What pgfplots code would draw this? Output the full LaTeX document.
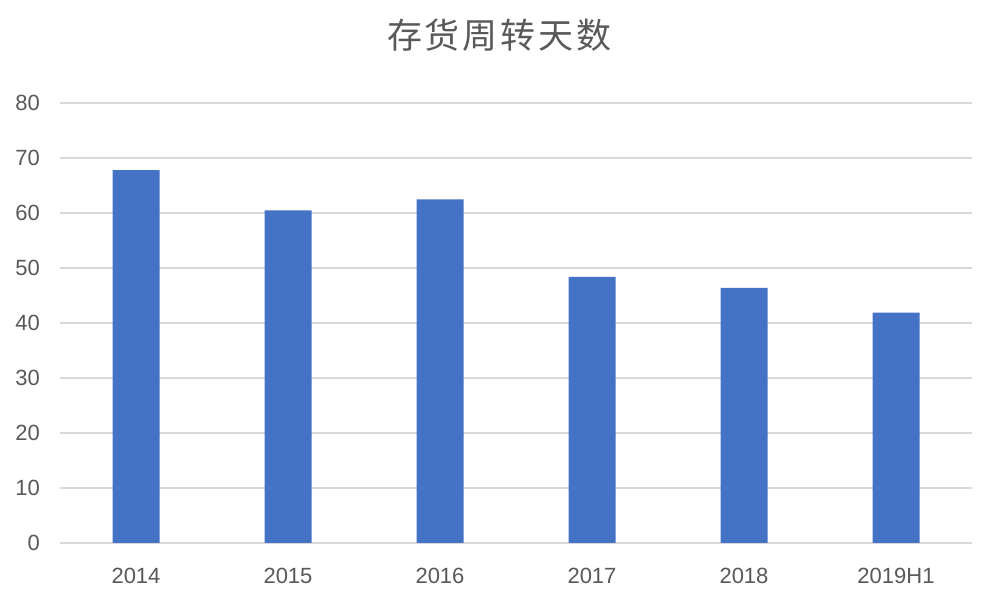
\documentclass[border=0pt]{standalone}
\usepackage{pgfplots}
\pgfplotsset{compat=1.18}
\usepackage{fontspec}
\setmainfont{Liberation Sans}
\newfontfamily\cjk{Noto Sans CJK SC}
\definecolor{barblue}{HTML}{4472C4}
\definecolor{txtgray}{HTML}{595959}
\definecolor{gridgray}{HTML}{D9D9D9}
\begin{document}
\begin{tikzpicture}[x=1pt,y=1pt]
\path[use as bounding box, fill=white] (0,0) rectangle (999,599);
\begin{axis}[
  at={(60pt,56pt)}, anchor=south west,
  scale only axis, width=912pt, height=440pt,
  xmin=-0.5, xmax=5.5, ymin=0, ymax=80,
  ytick={0,10,...,80},
  xtick={0,1,2,3,4,5},
  xticklabels={2014,2015,2016,2017,2018,2019H1},
  axis line style={draw=none},
  major tick length=0pt,
  ymajorgrids,
  grid style={gridgray, line width=1.6pt},
  tick label style={font=\fontsize{22}{26}\selectfont, text=txtgray, inner sep=0pt},
  yticklabel style={anchor=east, xshift=-20pt},
  xticklabel style={anchor=north, yshift=-25pt},
  /pgf/number format/assume math mode=true,
  ybar, bar width=47pt,
  clip=false,
]
\addplot[fill=barblue, draw=none] coordinates {(0,67.8) (1,60.5) (2,62.5) (3,48.4) (4,46.4) (5,41.9)};
\end{axis}
\node[text=txtgray, font=\cjk\fontsize{35}{40}\selectfont] at (499.5,564) {存\hspace{3pt}货\hspace{3pt}周\hspace{3pt}转\hspace{3pt}天\hspace{3pt}数};
\end{tikzpicture}
\end{document}
